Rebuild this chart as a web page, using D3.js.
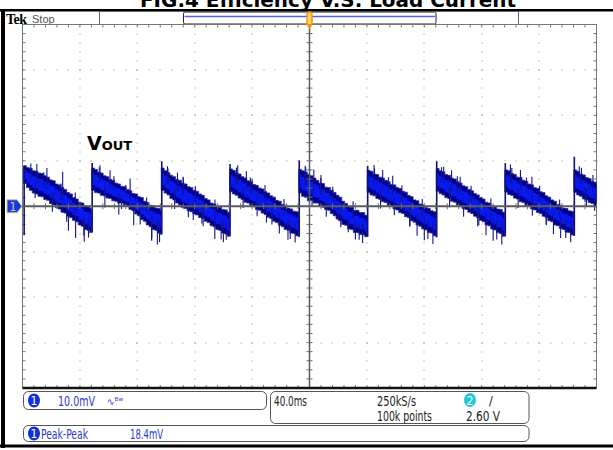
<!DOCTYPE html>
<html><head><meta charset="utf-8">
<script src="https://cdn.jsdelivr.net/npm/d3@7/dist/d3.min.js"></script>
<style>
html,body{margin:0;padding:0;background:#fff;}
svg{display:block;}
.nar{font-family:"Liberation Sans Narrow","DejaVu Sans Condensed","Liberation Sans",sans-serif;}
</style></head>
<body>
<svg id="c" width="613" height="450"></svg>
<script>
// ---------------- data ----------------
const titleText = "FIG.4 Efficiency V.S. Load Current";
const timeDivTicks = [-200,-160,-120,-80,-40,0,40,80,120,160,200];   // ms (40 ms/div)
const voltDivTicks = [-40,-30,-20,-10,0,10,20,30,40];                  // mV (10 mV/div)
const channelScale = "10.0mV";
const timeBase = "40.0ms";
const sampleRate = "250kS/s";
const recordLen = "100k points";
const trigLevel = "2.60 V";
const measName = "Peak-Peak";
const measValue = "18.4mV";

// start time (ms) of each sawtooth segment (rising edge positions)
const segStart = [-199.2, -151.8, -103.3, -55.7, -7.5, 40.2, 88.3, 136.1, 184.2];
const sampleStep = 2; // ms between envelope samples
// upper / lower envelope of the noisy trace, mV, sampled every 2 ms from segment start
const segTop = [
 [8.9,8.5,8.3,7.8,7.7,7.3,7.2,6.7,6.4,5.8,5.6,4.9,4.7,4.1,3.7,3.0,2.7,1.9,1.6,0.9,0.7,0.1,0.0,-0.4,-0.5],
 [8.4,8.1,7.5,7.3,6.7,6.5,5.9,5.7,5.1,4.9,4.4,4.3,3.7,3.4,2.8,2.7,2.1,1.9,1.1,0.8,0.2,0.1,-0.4,-0.5,-0.9],
 [8.4,7.8,7.4,6.8,6.5,5.9,5.7,5.1,4.9,4.3,4.1,3.5,3.3,2.7,2.4,1.7,1.4,0.7,0.5,-0.1,-0.2,-0.7,-0.8,-1.3,-1.5],
 [8.2,7.9,7.3,7.1,6.5,6.2,5.6,5.4,4.8,4.6,4.0,3.8,3.2,2.9,2.3,2.0,1.3,1.1,0.4,0.2,-0.4,-0.6,-1.1,-1.2,-1.6],
 [8.1,7.8,7.5,7.0,6.7,6.2,5.7,5.1,5.0,4.2,4.1,3.5,3.0,2.4,2.0,1.1,0.6,0.0,-0.2,-0.9,-0.9,-1.4,-1.4,-2.0,-2.2],
 [7.9,7.7,7.1,7.0,6.4,6.2,5.7,5.4,4.8,4.7,4.1,3.9,3.3,3.1,2.4,2.1,1.4,1.2,0.5,0.3,-0.3,-0.5,-1.0,-1.2,-1.7],
 [8.3,7.8,7.6,7.0,6.8,6.2,6.0,5.4,5.1,4.5,4.3,3.7,3.4,2.8,2.5,1.9,1.6,0.9,0.7,0.1,-0.1,-0.6,-0.7,-1.3,-1.6],
 [8.0,7.8,7.2,7.0,6.4,6.3,5.7,5.5,4.9,4.7,4.1,3.9,3.2,3.0,2.3,2.0,1.4,1.1,0.4,0.2,-0.4,-0.5,-1.0,-1.1,-1.5],
 [8.0,7.7,7.1,6.9,6.3,6.1,5.5,5.3,4.8]
];
const segBottom = [
 [5.0,4.1,3.5,2.9,2.7,2.2,2.1,1.5,1.3,0.6,0.3,-0.3,-0.6,-1.3,-1.5,-2.2,-2.5,-3.1,-3.4,-4.1,-4.4,-5.1,-5.3,-5.8,-6.0],
 [3.5,3.0,2.9,2.4,2.3,1.8,1.7,1.2,1.1,0.7,0.7,0.2,0.0,-0.7,-1.0,-1.7,-2.1,-2.9,-3.3,-4.1,-4.5,-5.1,-5.3,-5.9,-6.2],
 [3.5,2.9,2.5,1.7,1.4,0.7,0.3,-0.3,-0.5,-1.0,-1.2,-1.7,-1.9,-2.5,-2.7,-3.3,-3.6,-4.3,-4.5,-5.1,-5.3,-5.9,-6.1,-6.6,-6.8],
 [3.2,2.7,2.4,1.8,1.5,0.9,0.7,0.1,-0.1,-0.7,-0.9,-1.5,-1.8,-2.4,-2.7,-3.3,-3.6,-4.2,-4.5,-5.1,-5.3,-5.9,-6.0,-6.5,-6.7],
 [2.9,2.2,2.0,1.2,1.3,0.7,0.7,0.1,-0.2,-0.7,-0.9,-1.6,-2.1,-2.8,-3.2,-4.0,-4.2,-5.0,-5.1,-5.8,-5.8,-6.2,-6.3,-6.7,-6.8],
 [3.0,2.5,2.3,1.7,1.5,1.0,0.8,0.2,0.0,-0.6,-0.8,-1.4,-1.6,-2.3,-2.5,-3.2,-3.5,-4.1,-4.4,-5.0,-5.2,-5.8,-5.9,-6.5,-6.8],
 [3.3,2.8,2.5,1.9,1.7,1.1,0.9,0.3,0.1,-0.5,-0.7,-1.3,-1.6,-2.2,-2.5,-3.1,-3.4,-4.1,-4.3,-5.0,-5.2,-5.8,-6.0,-6.6,-6.9],
 [3.1,2.6,2.4,1.8,1.6,1.0,0.8,0.2,0.0,-0.6,-0.8,-1.4,-1.6,-2.2,-2.5,-3.2,-3.4,-4.1,-4.3,-4.9,-5.1,-5.7,-5.8,-6.3,-6.5],
 [3.0,2.5,2.2,1.6,1.4,0.8,0.6,0.0,-0.3]
];
// top of the rising edge at each segment start (mV)
const jumpPeak = [8.9, 9.5, 9.9, 9.3, 10.1, 8.9, 9.9, 9.5, 10.9];
// isolated noise spikes [time ms, mV]
const spikes = [
 [-190,9.3],[-183,8.4],[-172,7.6],[-178,1.2],[-163,-7.0],[-157,-7.8],[-154,-6.9],[-168,-5.4],
 [-194.2,9.4],[-185.2,7.5],[-173.2,5.0],[-163.2,3.0],[-191.2,1.8],[-179.2,-1.2],[-169.2,-3.4],[-157.2,-6.5],
 [-146,9.0],[-139,7.9],[-125,6.1],[-118,-4.0],[-110,-7.6],[-106,-8.4],[-104.5,-7.9],[-131,-0.6],
 [-146.5,8.6],[-136.3,6.6],[-128.0,4.7],[-113.5,1.9],[-142.6,-0.3],[-132.9,-1.8],[-122.5,-4.2],[-109.9,-7.1],
 [-99,8.8],[-92,7.4],[-88,6.3],[-75,-3.8],[-66,-7.2],[-60,-7.9],[-58,-7.4],[-81,-3.0],
 [-98.6,8.3],[-88.0,6.5],[-79.5,4.4],[-65.9,1.5],[-94.0,-0.6],[-84.4,-2.4],[-74.1,-4.4],[-61.6,-7.3],
 [-50,9.0],[-44,7.7],[-40,6.0],[-30,-3.6],[-15,-7.4],[-10,-8.0],[-21,-6.0],[-36,2.9],
 [-50.9,8.5],[-41.2,6.3],[-31.0,4.7],[-17.8,1.6],[-46.3,-0.4],[-36.5,-2.2],[-26.2,-4.0],[-13.4,-7.2],
 [-3,8.9],[3,8.1],[8,6.9],[20,-3.1],[32,-7.3],[37,-8.1],[27,-5.7],[14,4.1],
 [-2.6,8.6],[7.9,6.2],[16.2,4.3],[30.4,1.1],[1.8,-0.1],[11.7,-2.3],[21.8,-4.6],[34.6,-7.4],
 [45,9.1],[51,8.0],[58,6.7],[70,-4.5],[80,-7.5],[86,-8.3],[75,-6.5],[64,2.3],
 [45.3,8.3],[55.0,6.4],[64.4,4.6],[78.6,1.6],[49.5,-0.5],[59.1,-2.0],[69.7,-4.3],[82.5,-7.2],
 [92,8.6],[99,7.9],[105,6.5],[118,-4.2],[128,-7.6],[134,-8.4],[123,-6.4],[111,2.0],
 [93.5,8.7],[103.0,6.6],[112.6,4.5],[126.4,1.7],[97.6,-0.2],[107.4,-2.3],[117.2,-4.4],[130.5,-7.3],
 [140,9.2],[147,8.0],[155,6.5],[165,-4.0],[175,-7.0],[182,-7.9],[170,-6.1],[160,2.9],
 [141.0,8.4],[151.2,6.3],[160.4,4.5],[174.3,1.5],[145.4,-0.4],[155.3,-2.1],[165.0,-4.2],[178.6,-7.0],
 [188,8.8],[195,5.2],[192,0.9],[189.5,8.5],[197.5,6.9],[193.0,0.0],[198.7,-1.0]
];

// ---------------- layout ----------------
const W = 613, H = 450;
const gL = 22.5, gR = 596.5, gT = 24.5, gB = 388;
const svg = d3.select("#c");
const x = d3.scaleLinear().domain([-200,200]).range([gL,gR]);
const y = d3.scaleLinear().domain([-40,40]).range([gB,gT]);
const minorT = d3.range(-200,200.01,8);
const minorV = d3.range(-40,40.01,2);
const gridCol = "#8c8c8c";

// title (cut off at the top, as in the source image)
svg.append("text").attr("x",328).attr("y",7)
  .attr("text-anchor","middle")
  .style("font-family","'DejaVu Sans',sans-serif").style("font-weight","bold").style("font-size","20px")
  .attr("textLength",376).attr("lengthAdjust","spacingAndGlyphs")
  .attr("fill","#000").text(titleText);

// outer black frame pieces
svg.append("rect").attr("x",0).attr("y",9).attr("width",W).attr("height",2.5).attr("fill","#000");
svg.append("rect").attr("x",1).attr("y",9).attr("width",4).attr("height",439).attr("fill","#000");
svg.append("rect").attr("x",0).attr("y",444.5).attr("width",W).attr("height",3).attr("fill","#000");

// header
svg.append("text").attr("x",6).attr("y",23.5)
  .style("font-family","'Liberation Serif','DejaVu Serif',serif").style("font-weight","bold")
  .style("font-size","14px").style("letter-spacing","-0.5px")
  .attr("fill","#000").text("Tek");
svg.append("text").attr("x",32).attr("y",22.5)
  .style("font-family","'Liberation Sans',sans-serif")
  .style("font-size","11px").attr("fill","#555").text("Stop");
// record view bar
svg.append("rect").attr("x",99.5).attr("y",11.5).attr("width",419).attr("height",13)
  .attr("fill","#fff").attr("stroke","#666").attr("stroke-width",1);
svg.append("rect").attr("x",183.5).attr("y",12).attr("width",252.5).attr("height",12)
  .attr("rx",1.5).attr("fill","#fff").attr("stroke","#222").attr("stroke-width",1);
svg.append("line").attr("x1",184.5).attr("x2",435).attr("y1",16.5).attr("y2",16.5)
  .attr("stroke","#5a5aff").attr("stroke-width",1.5);

// ---------------- grid ----------------
const grid = svg.append("g");
timeDivTicks.slice(1,-1).forEach(t=>{
  if (t===0) return;
  minorV.forEach(v=>{
    grid.append("rect").attr("x",Math.round(x(t))-0.5).attr("y",Math.round(y(v))-0.5)
      .attr("width",1).attr("height",1).attr("fill",gridCol);
  });
});
voltDivTicks.slice(1,-1).forEach(v=>{
  if (v===0) return;
  minorT.forEach(t=>{
    grid.append("rect").attr("x",Math.round(x(t))-0.5).attr("y",Math.round(y(v))-0.5)
      .attr("width",1).attr("height",1).attr("fill",gridCol);
  });
});
grid.append("line").attr("x1",gL).attr("x2",gR).attr("y1",gT).attr("y2",gT).attr("stroke","#777").attr("stroke-width",1);
grid.append("line").attr("x1",gL).attr("x2",gL).attr("y1",gT).attr("y2",gB).attr("stroke","#777").attr("stroke-width",1);
grid.append("line").attr("x1",gR).attr("x2",gR).attr("y1",gT).attr("y2",gB).attr("stroke","#777").attr("stroke-width",1);
minorT.forEach(t=>{
  grid.append("line").attr("x1",x(t)).attr("x2",x(t)).attr("y1",gT).attr("y2",gT+3).attr("stroke","#777");
  grid.append("line").attr("x1",x(t)).attr("x2",x(t)).attr("y1",gB-3).attr("y2",gB).attr("stroke","#777");
});
minorV.forEach(v=>{
  grid.append("line").attr("x1",gL).attr("x2",gL+3).attr("y1",y(v)).attr("y2",y(v)).attr("stroke","#777");
  grid.append("line").attr("x1",gR-3).attr("x2",gR).attr("y1",y(v)).attr("y2",y(v)).attr("stroke","#777");
});

// ---------------- waveform ----------------
const wave = svg.append("g");
const segs = segStart.map((s,i)=>{
  const end = i+1<segStart.length ? segStart[i+1] : 200;
  let pts = segTop[i].map((v,k)=>({t:s+k*sampleStep, top:v, bot:segBottom[i][k]}))
    .filter(d=>d.t<end);
  pts.forEach(d=>{ if (d.t< -200) d.t=-200; });
  const last = pts[pts.length-1];
  pts.push({t:end, top:last.top, bot:last.bot});
  return pts;
});
const areaOuter = d3.area().x(d=>x(d.t)).y0(d=>y(d.bot)).y1(d=>y(d.top)).curve(d3.curveStepAfter);
const areaInner = d3.area().x(d=>x(d.t))
  .y0(d=>y((d.top+d.bot)/2 - (d.top-d.bot)*0.26))
  .y1(d=>y((d.top+d.bot)/2 + (d.top-d.bot)*0.26)).curve(d3.curveStepAfter);
segs.forEach(pts=>{
  wave.append("path").attr("d",areaOuter(pts)).attr("fill","#00008a")
    .attr("stroke","#2a2aa0").attr("stroke-width",0.8);
  wave.append("path").attr("d",areaInner(pts)).attr("fill","#0818f0");
});
segStart.forEach((s,i)=>{
  const prev = i>0 ? segs[i-1][segs[i-1].length-1].bot : -6.4;
  wave.append("line").attr("x1",x(Math.max(s,-200))+0.5).attr("x2",x(Math.max(s,-200))+0.5)
    .attr("y1",y(prev)).attr("y2",y(jumpPeak[i]))
    .attr("stroke","#10107a").attr("stroke-width",1.6);
});
function bandAt(t){
  for (let i=segs.length-1;i>=0;i--){
    if (t>=segs[i][0].t){
      const p = segs[i]; let d=p[0];
      for (const q of p){ if (q.t<=t) d=q; }
      return d;
    }
  }
  return segs[0][0];
}
spikes.forEach(([t,v])=>{
  const b = bandAt(t);
  const mid = (b.top+b.bot)/2;
  wave.append("line").attr("x1",x(t)).attr("x2",x(t)).attr("y1",y(mid)).attr("y2",y(v))
    .attr("stroke","#14148c").attr("stroke-width",1.1);
});

// center cross (drawn over trace)
const cg = svg.append("g");
cg.append("line").attr("x1",x(0)).attr("x2",x(0)).attr("y1",gT).attr("y2",gB).attr("stroke","#5a5a5a").attr("stroke-width",1.5);
cg.append("line").attr("x1",gL).attr("x2",gR).attr("y1",y(0)).attr("y2",y(0)).attr("stroke","#5a5a5a").attr("stroke-width",1.8);
minorV.forEach(v=>{
  cg.append("line").attr("x1",x(0)-3).attr("x2",x(0)+3).attr("y1",y(v)).attr("y2",y(v)).attr("stroke","#6a6a6a");
});
minorT.forEach(t=>{
  cg.append("line").attr("x1",x(t)).attr("x2",x(t)).attr("y1",y(0)-3).attr("y2",y(0)+3).attr("stroke","#6a6a6a");
});
svg.append("line").attr("x1",gL).attr("x2",gR).attr("y1",gB).attr("y2",gB).attr("stroke","#111").attr("stroke-width",2.5);

// trigger position marker
const tx = x(0);
svg.append("rect").attr("x",tx-2.5).attr("y",12).attr("width",5).attr("height",13).attr("rx",2.5)
  .attr("fill","#ffd080").attr("stroke","#f09a00").attr("stroke-width",1.5);
svg.append("path").attr("d",`M${tx-3.5},24 L${tx+3.5},24 L${tx},29 Z`).attr("fill","#f09a00");

// channel 1 ground marker
const gy = y(0);
svg.append("path").attr("d",`M7,${gy-6.5} L17,${gy-6.5} L22,${gy} L17,${gy+6.5} L7,${gy+6.5} Z`)
  .attr("fill","#1a36e0").attr("stroke","#c8c890").attr("stroke-width",1);
svg.append("text").attr("x",13).attr("y",gy+4.5).attr("text-anchor","middle").attr("class","nar")
  .style("font-size","12px").attr("fill","#d0d0b0").text("1");

// VOUT label
const lab = svg.append("text").attr("x",87).attr("y",150)
  .style("font-family","'DejaVu Sans',sans-serif").style("font-weight","bold").attr("fill","#000");
lab.append("tspan").style("font-size","19px").text("V");
lab.append("tspan").style("font-size","13px").text("OUT");

// ---------------- readouts ----------------
function badge(cx,cy,fill,label){
  svg.append("ellipse").attr("cx",cx).attr("cy",cy).attr("rx",6).attr("ry",7).attr("fill",fill);
  svg.append("text").attr("x",cx).attr("y",cy+4.5).attr("text-anchor","middle").attr("class","nar")
    .style("font-size","12px").attr("fill","#fff").text(label);
}
function readout(xp,yp,txt,len,col){
  svg.append("text").attr("x",xp).attr("y",yp).attr("class","nar").style("font-size","13.5px")
    .attr("textLength",len).attr("lengthAdjust","spacingAndGlyphs").attr("fill",col).text(txt);
}
svg.append("rect").attr("x",23.5).attr("y",391.5).attr("width",243).attr("height",18).attr("rx",5)
  .attr("fill","#fff").attr("stroke","#555");
badge(34,400.5,"#1030d8","1");
readout(58,405.5,channelScale,37,"#2a3ad0");
svg.append("text").attr("x",107).attr("y",404.5).attr("class","nar").style("font-size","10px")
  .attr("fill","#2a3ad0").text("\u223F\u1D2Eʷ");

svg.append("rect").attr("x",270.5).attr("y",391.5).attr("width",258.5).attr("height",32).attr("rx",5)
  .attr("fill","#fff").attr("stroke","#555");
readout(274,405.5,timeBase,33,"#222");
readout(377,405.5,sampleRate,39,"#222");
readout(377,421,recordLen,55,"#222");
badge(470,400,"#22c8d8","2");
svg.append("text").attr("x",489).attr("y",405).attr("class","nar").style("font-size","12.5px").attr("fill","#222").text("/");
readout(466,421,trigLevel,34,"#222");

svg.append("rect").attr("x",23.5).attr("y",425.5).attr("width",505.5).attr("height",16).attr("rx",5)
  .attr("fill","#fff").attr("stroke","#555");
badge(34,433.5,"#1030d8","1");
readout(41,438.5,measName,47,"#2a3ad0");
readout(130,438.5,measValue,33,"#2a3ad0");
</script>
</body></html>
